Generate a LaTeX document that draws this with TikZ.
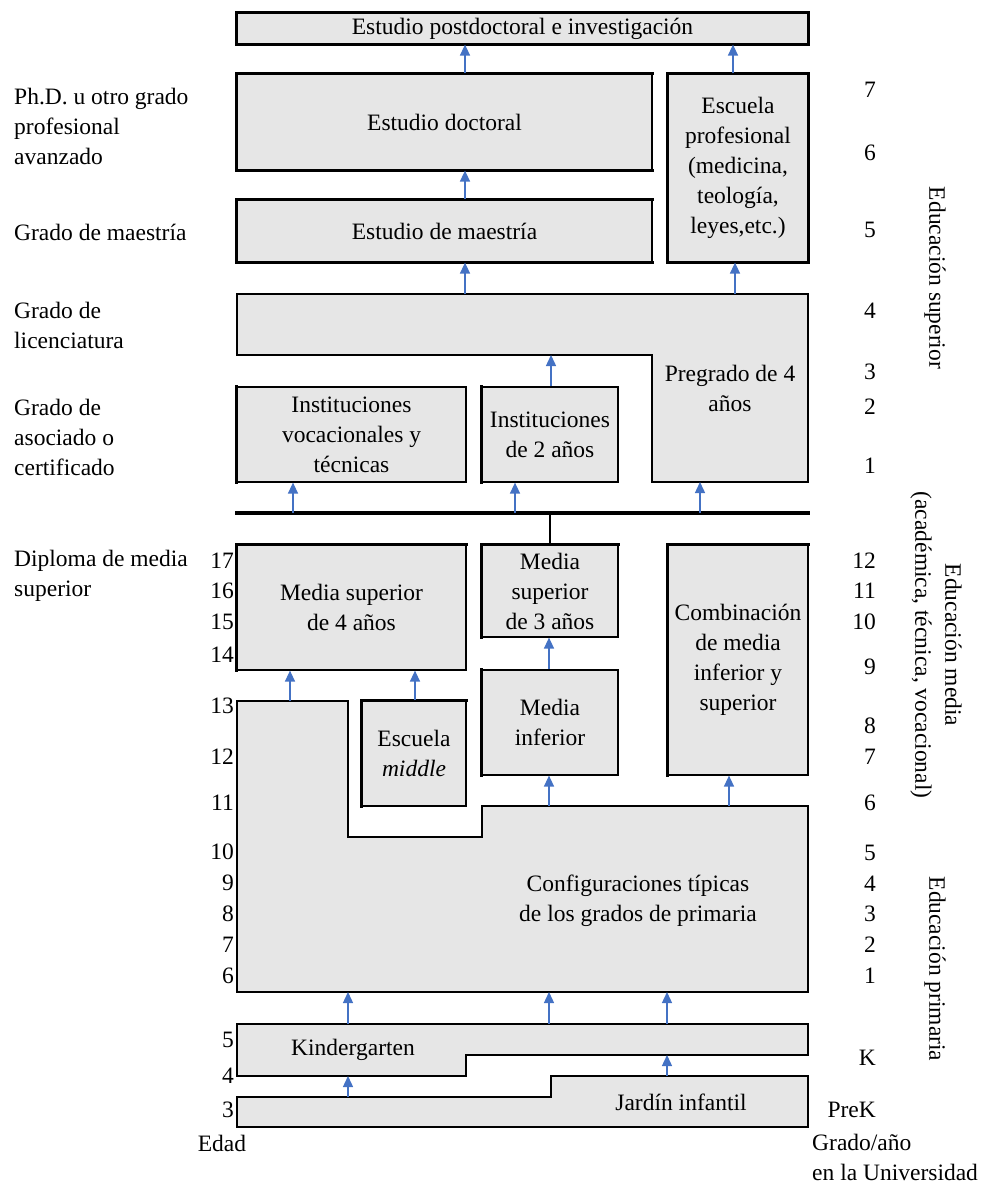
\documentclass[tikz,border=0pt]{standalone}
\usepackage{fontspec}
\setmainfont{Liberation Serif}
\usetikzlibrary{arrows.meta}
\definecolor{boxfill}{RGB}{230,230,230}
\definecolor{arrblue}{RGB}{68,114,196}
\newcommand\myfs{\fontsize{23.5}{30}\selectfont}
\begin{document}
\begin{tikzpicture}[x=1pt,y=-1pt,
  box/.style={draw=black, line width=1.2pt, fill=boxfill, inner sep=0pt, align=center, font=\myfs},
  shp/.style={draw=black, line width=1.2pt, fill=boxfill},
  thk/.style={line width=2.8pt, line cap=rect},
  arr/.style={arrblue, line width=1.4pt, -{Triangle[length=11pt,width=10pt]}},
  txt/.style={font=\myfs, inner sep=0pt, align=center},
  lbl/.style={font=\myfs, inner sep=0pt, align=left, anchor=west},
  num/.style={font=\myfs, inner sep=0pt, anchor=east},
  vert/.style={font=\myfs, inner sep=0pt, align=center, rotate=-90}]
\useasboundingbox (0,0) rectangle (982,1185);

% ---------- rectangular boxes ----------
\node[box, minimum width=571pt, minimum height=31pt] (post) at (522.5,28.5) {Estudio postdoctoral e investigación};
\node[box, minimum width=415pt, minimum height=96pt] (doct) at (444.5,122) {Estudio doctoral};
\node[box, minimum width=140pt, minimum height=188pt] (prof) at (738,168) {Escuela\\profesional\\(medicina,\\teología,\\leyes,etc.)};
\node[box, minimum width=415pt, minimum height=62pt] (maes) at (444.5,231) {Estudio de maestría};
\node[box, minimum width=229pt, minimum height=95pt] (ivoc) at (351.5,434.5) {Instituciones\\vocacionales y\\técnicas};
\node[box, minimum width=136pt, minimum height=95pt] (i2) at (550,434.5) {Instituciones\\de 2 años};
\node[box, minimum width=229pt, minimum height=125pt] (ms4) at (351.5,607.5) {Media superior\\de 4 años};
\node[box, minimum width=136pt, minimum height=92pt] (ms3) at (550,591) {Media\\superior\\de 3 años};
\node[box, minimum width=140pt, minimum height=230pt] (comb) at (738,660) {Combinación\\de media\\inferior y\\superior};
\node[box, minimum width=136pt, minimum height=105pt] (minf) at (550,722.5) {Media\\inferior};
\node[box, minimum width=104pt, minimum height=105pt] (emid) at (414,753.5) {Escuela\\\textit{middle}};

% thick edges
\draw[thk] (post.south west) -- (post.north west) -- (post.north east) -- (post.south east) -- cycle;
\draw[thk] (doct.south east) -- (doct.south west) -- (doct.north west) -- (doct.north east);
\draw[thk] (prof.south west) -- (prof.north west) -- (prof.north east) -- (prof.south east) -- cycle;
\draw[thk] (maes.south east) -- (maes.south west) -- (maes.north west) -- (maes.north east);
\draw[thk] (ivoc.south west) -- (ivoc.north west);
\draw[thk] (i2.south west) -- (i2.north west);
\draw[thk] (ms4.south west) -- (ms4.north west) -- (ms4.north east);
\draw[thk] (ms3.south west) -- (ms3.north west) -- (ms3.north east);
\draw[thk] (comb.south west) -- (comb.north west) -- (comb.north east);
\draw[thk] (minf.south west) -- (minf.north west);
\draw[thk] (emid.south west) -- (emid.north west) -- (emid.north east);

% ---------- Pregrado (L shape) ----------
\draw[shp] (237,294) coordinate (pg1) -- (808,294) coordinate (pg2) -- (808,482) coordinate (pg3)
  -- (652,482) coordinate (pg4) -- (652,355) coordinate (pg5) -- (237,355) coordinate (pg6) -- cycle;
\draw[thk] (pg5) -- (pg6) -- (pg1);
\node[txt] (preg) at (730,388) {Pregrado de 4\\años};

% ---------- bar ----------
\coordinate (barL) at (237,513);
\coordinate (barR) at (808,513);
\coordinate (barJ) at (550,513);
\draw[thk, line width=3.2pt] (barL) -- (barR);
\draw[thk] (barJ) -- (ms3.north);

% ---------- Primary ----------
\draw[shp] (237,701) coordinate (p1) -- (348,701) coordinate (p2) -- (348,837) coordinate (p3)
  -- (482,837) coordinate (p4) -- (482,806) coordinate (p5) -- (808,806) coordinate (p6)
  -- (808,992) coordinate (p7) -- (237,992) coordinate (p8) -- cycle;
\draw[thk] (p2) -- (p1) -- (p8) -- (p7);
\draw[thk] (p3) -- (p4) -- (p5);
\node[txt] (prim) at (638,901) {Configuraciones típicas\\de los grados de primaria};

% ---------- Kindergarten ----------
\draw[shp] (237,1024) coordinate (k1) -- (808,1024) coordinate (k2) -- (808,1055) coordinate (k3)
  -- (466,1055) coordinate (k4) -- (466,1076) coordinate (k5) -- (237,1076) coordinate (k6) -- cycle;
\draw[thk] (k6) -- (k1);
\draw[thk] (k2) -- (k3);
\node[txt] (kind) at (353,1050) {Kindergarten};

% ---------- Jardín ----------
\draw[shp] (237,1097) coordinate (j1) -- (551,1097) coordinate (j2) -- (551,1076) coordinate (j3)
  -- (808,1076) coordinate (j4) -- (808,1127) coordinate (j5) -- (237,1127) coordinate (j6) -- cycle;
\draw[thk] (j2) -- (j3) -- (j4);
\draw[thk] (j5) -- (j6) -- (j1);
\node[txt] (jard) at (681,1102) {Jardín infantil};

% ---------- arrow axes ----------
\coordinate (xa) at (465,0);
\coordinate (xb) at (733,0);
\coordinate (xc) at (735,0);
\coordinate (xd) at (551,0);
\coordinate (xe) at (293,0);
\coordinate (xf) at (515,0);
\coordinate (xg) at (700,0);
\coordinate (xh) at (290,0);
\coordinate (xi) at (415,0);
\coordinate (xj) at (549,0);
\coordinate (xk) at (729,0);
\coordinate (xl) at (348,0);
\coordinate (xm) at (667,0);

% ---------- arrows ----------
\draw[arr] (doct.north -| xa) -- (post.south -| xa);
\draw[arr] (prof.north -| xb) -- (post.south -| xb);
\draw[arr] (maes.north -| xa) -- (doct.south -| xa);
\draw[arr] (pg1 -| xa) -- (maes.south -| xa);
\draw[arr] (pg2 -| xc) -- (prof.south -| xc);
\draw[arr] (i2.north -| xd) -- (pg6 -| xd);
\draw[arr] (barL -| xe) -- (ivoc.south -| xe);
\draw[arr] (barL -| xf) -- (i2.south -| xf);
\draw[arr] (barL -| xg) -- (pg3 -| xg);
\draw[arr] (p1 -| xh) -- (ms4.south -| xh);
\draw[arr] (emid.north -| xi) -- (ms4.south -| xi);
\draw[arr] (minf.north -| xj) -- (ms3.south -| xj);
\draw[arr] (p5 -| xj) -- (minf.south -| xj);
\draw[arr] (p6 -| xk) -- (comb.south -| xk);
\draw[arr] (k1 -| xl) -- (p8 -| xl);
\draw[arr] (k1 -| xj) -- (p8 -| xj);
\draw[arr] (k1 -| xm) -- (p8 -| xm);
\draw[arr] (j1 -| xl) -- (k6 -| xl);
\draw[arr] (j3 -| xm) -- (k3 -| xm);

% ---------- left labels ----------
\node[lbl] (lphd) at (14,126) {Ph.D. u otro grado\\profesional\\avanzado};
\node[lbl] (lmae) at (14,232) {Grado de maestría};
\node[lbl] (llic) at (14,325) {Grado de\\licenciatura};
\node[lbl] (lasc) at (14,437) {Grado de\\asociado o\\certificado};
\node[lbl] (ldip) at (14,576) {Diploma de media\\superior};

% ---------- ages ----------
\foreach \a/\y in {17/561,16/591,15/622,14/655,13/706,12/757,11/803,10/852,9/883,8/914,7/945,6/976,5/1040,4/1076,3/1110}
  \node[num] (age\a) at (234,\y) {\a};
\node[txt] (edad) at (222,1143) {Edad};

% ---------- grades ----------
\foreach \g/\y [count=\i] in {7/90,6/153,5/230,4/311,3/372,2/407,1/466,12/561,11/591,10/622,9/667,8/726,7/757,6/803,5/853,4/884,3/914,2/945,1/976,K/1058,PreK/1110}
  \node[num] (gr\i) at (876,\y) {\g};
\node[lbl] (grlab) at (812,1157) {Grado/año\\en la Universidad};

% ---------- vertical labels ----------
\node[vert] (esup) at (935,278) {Educación superior};
\node[vert] (emed) at (936,645) {Educación media\\(académica, técnica, vocacional)};
\node[vert] (eprim) at (935,969) {Educación primaria};
\end{tikzpicture}
\end{document}
